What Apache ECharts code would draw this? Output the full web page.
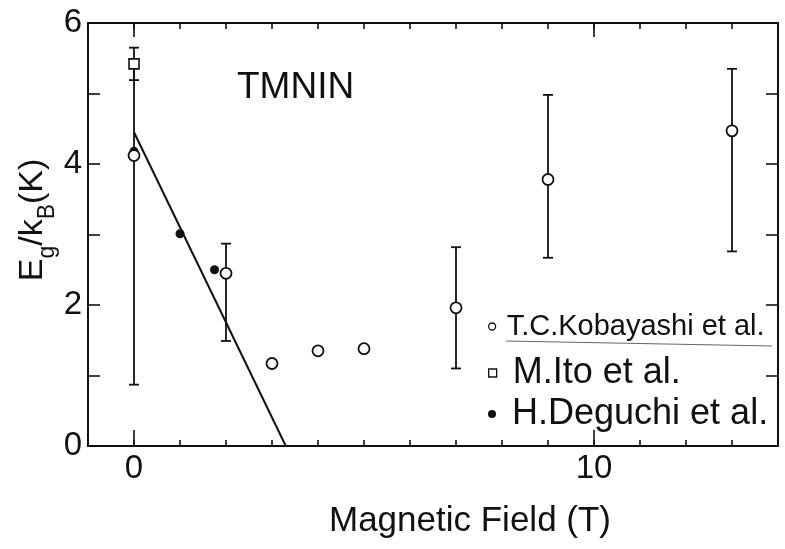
<!DOCTYPE html>
<html><head><meta charset="utf-8">
<script src="https://cdn.jsdelivr.net/npm/echarts@6/dist/echarts.min.js"></script>
<style>html,body{margin:0;padding:0;background:#fff}#c{width:785px;height:549px}</style>
</head><body><div id="c"></div>
<script>
// ---- data ----
const kobaX    = [0,    2,    3,    4,    5,    7,    9,    13];
const kobaY    = [4.12, 2.45, 1.17, 1.35, 1.38, 1.96, 3.78, 4.47];
const kobaLow  = [0.87, 1.49, null, null, null, 1.10, 2.67, 2.76];
const kobaHigh = [5.42, 2.87, null, null, null, 2.82, 4.98, 5.35];
const itoX    = [0];
const itoY    = [5.42];
const itoLow  = [5.19];
const itoHigh = [5.65];
const deguchiX = [0,    1,    1.75];
const deguchiY = [4.18, 3.01, 2.50];
const fitX = [0,    3.3];
const fitY = [4.45, 0];
const xLabelValues = [0, 10];
const xMajorTicks = [0, 10];
const yLabelValues = [0, 2, 4, 6];
const seriesNames = ['T.C.Kobayashi et al.', 'M.Ito et al.', 'H.Deguchi et al.'];

const INK = '#111';
const FONT = '"Liberation Sans", Arial, Helvetica, sans-serif';
const pair = (xs, ys) => xs.map((x, i) => [x, ys[i]]);

function errorSeries(xs, lows, highs) {
  const data = xs.map((x, i) => [x, lows[i], highs[i]]).filter(d => d[1] != null);
  return {
    type: 'custom', data, xAxisIndex: 0, yAxisIndex: 0, z: 1, silent: true, clip: true,
    encode: { x: 0, y: [1, 2] },
    renderItem(params, api) {
      const lo = api.coord([api.value(0), api.value(1)]);
      const hi = api.coord([api.value(0), api.value(2)]);
      const w = 5;
      const st = { stroke: INK, lineWidth: 1.8 };
      return { type: 'group', children: [
        { type: 'line', shape: { x1: lo[0], y1: lo[1], x2: hi[0], y2: hi[1] }, style: st },
        { type: 'line', shape: { x1: lo[0] - w, y1: lo[1], x2: lo[0] + w, y2: lo[1] }, style: st },
        { type: 'line', shape: { x1: hi[0] - w, y1: hi[1], x2: hi[0] + w, y2: hi[1] }, style: st }
      ]};
    }
  };
}

const tickStyle = { color: INK, width: 1.6 };
const lineStyleAxis = { color: INK, width: 2 };
const baseX = { type: 'value', min: -1, max: 14, interval: 1, splitLine: { show: false } };
const baseY = { type: 'value', min: 0, max: 6, interval: 1, splitLine: { show: false } };

const chart = echarts.init(document.getElementById('c'), null, { renderer: 'canvas' });
chart.setOption({
  animation: false,
  backgroundColor: '#fff',
  textStyle: { fontFamily: FONT, color: INK },
  grid: { left: 88, top: 23, width: 690, height: 423, containLabel: false },
  xAxis: [
    Object.assign({}, baseX, { position: 'bottom',
      axisLine: { onZero: false, lineStyle: lineStyleAxis },
      axisTick: { inside: true, length: 6, lineStyle: tickStyle },
      axisLabel: { customValues: xLabelValues, fontSize: 33, fontFamily: FONT, color: INK, margin: 6 } }),
    Object.assign({}, baseX, { position: 'bottom',
      axisLine: { show: false, onZero: false },
      axisTick: { customValues: xMajorTicks, inside: true, length: 16, lineStyle: tickStyle },
      axisLabel: { show: false } }),
    Object.assign({}, baseX, { position: 'top',
      axisLine: { onZero: false, lineStyle: lineStyleAxis },
      axisTick: { inside: true, length: 6, lineStyle: tickStyle },
      axisLabel: { show: false } }),
    Object.assign({}, baseX, { position: 'top',
      axisLine: { show: false, onZero: false },
      axisTick: { customValues: xMajorTicks, inside: true, length: 14, lineStyle: tickStyle },
      axisLabel: { show: false } })
  ],
  yAxis: [
    Object.assign({}, baseY, { position: 'left',
      axisLine: { onZero: false, lineStyle: lineStyleAxis },
      axisTick: { inside: true, length: 12, lineStyle: tickStyle },
      axisLabel: { customValues: yLabelValues, fontSize: 33, fontFamily: FONT, color: INK, margin: 6 } }),
    Object.assign({}, baseY, { position: 'right',
      axisLine: { onZero: false, lineStyle: lineStyleAxis },
      axisTick: { inside: true, length: 12, lineStyle: tickStyle },
      axisLabel: { show: false } })
  ],
  legend: [
    { left: 488, top: 312, orient: 'vertical', padding: 0, itemWidth: 7, itemHeight: 7,
      data: [{ name: seriesNames[0], icon: 'circle',
        itemStyle: { color: '#fff', borderColor: INK, borderWidth: 1.3 } }],
      formatter: n => '{p|}{t|' + n + '}',
      textStyle: { rich: { p: { width: 6 }, t: { fontSize: 29, fontFamily: FONT, color: INK, lineHeight: 29 } } } },
    { left: 488, top: 355, orient: 'vertical', padding: 0, itemWidth: 8, itemHeight: 8,
      data: [{ name: seriesNames[1], icon: 'rect',
        itemStyle: { color: '#fff', borderColor: INK, borderWidth: 1.3 } }],
      formatter: n => '{p|}{t|' + n + '}',
      textStyle: { rich: { p: { width: 11 }, t: { fontSize: 36, fontFamily: FONT, color: INK, lineHeight: 36 } } } },
    { left: 488, top: 396, orient: 'vertical', padding: 0, itemWidth: 8, itemHeight: 8,
      data: [{ name: seriesNames[2], icon: 'circle', itemStyle: { color: INK } }],
      formatter: n => '{p|}{t|' + n + '}',
      textStyle: { rich: { p: { width: 11 }, t: { fontSize: 36, fontFamily: FONT, color: INK, lineHeight: 36 } } } }
  ],
  graphic: [
    { type: 'text', left: 237, top: 69, style: { text: 'TMNIN', font: '37px ' + FONT, fill: INK } },
    { type: 'text', x: 470, y: 521, style: { text: 'Magnetic Field (T)', font: '35px ' + FONT, fill: INK,
      align: 'center', verticalAlign: 'middle' } },
    { type: 'text', x: 33, y: 220, rotation: Math.PI / 2,
      style: { text: '{a|E}{s|g}{a|/k}{s|B}{a|(K)}', align: 'center', verticalAlign: 'middle',
        rich: { a: { fontSize: 34, fontFamily: FONT, fill: INK, lineHeight: 42, verticalAlign: 'middle' },
                s: { fontSize: 23, fontFamily: FONT, fill: INK, lineHeight: 52, verticalAlign: 'bottom' } } } },
    { type: 'line', shape: { x1: 506, y1: 341, x2: 772, y2: 346 }, style: { stroke: '#666', lineWidth: 1 } }
  ],
  series: [
    errorSeries(kobaX, kobaLow, kobaHigh),
    errorSeries(itoX, itoLow, itoHigh),
    { type: 'line', data: pair(fitX, fitY), showSymbol: false, symbol: 'none', z: 2, silent: true,
      lineStyle: { color: INK, width: 2 } },
    { name: seriesNames[0], type: 'scatter', data: pair(kobaX, kobaY), symbol: 'circle', symbolSize: 11, z: 4,
      itemStyle: { color: '#fff', borderColor: INK, borderWidth: 1.8, opacity: 1 } },
    { name: seriesNames[1], type: 'scatter', data: pair(itoX, itoY), symbol: 'rect', symbolSize: 10, z: 5,
      itemStyle: { color: '#fff', borderColor: INK, borderWidth: 1.6, opacity: 1 } },
    { name: seriesNames[2], type: 'scatter', data: pair(deguchiX, deguchiY), symbol: 'circle', symbolSize: 9, z: 3,
      itemStyle: { color: INK, opacity: 1 } }
  ]
});
</script></body></html>
